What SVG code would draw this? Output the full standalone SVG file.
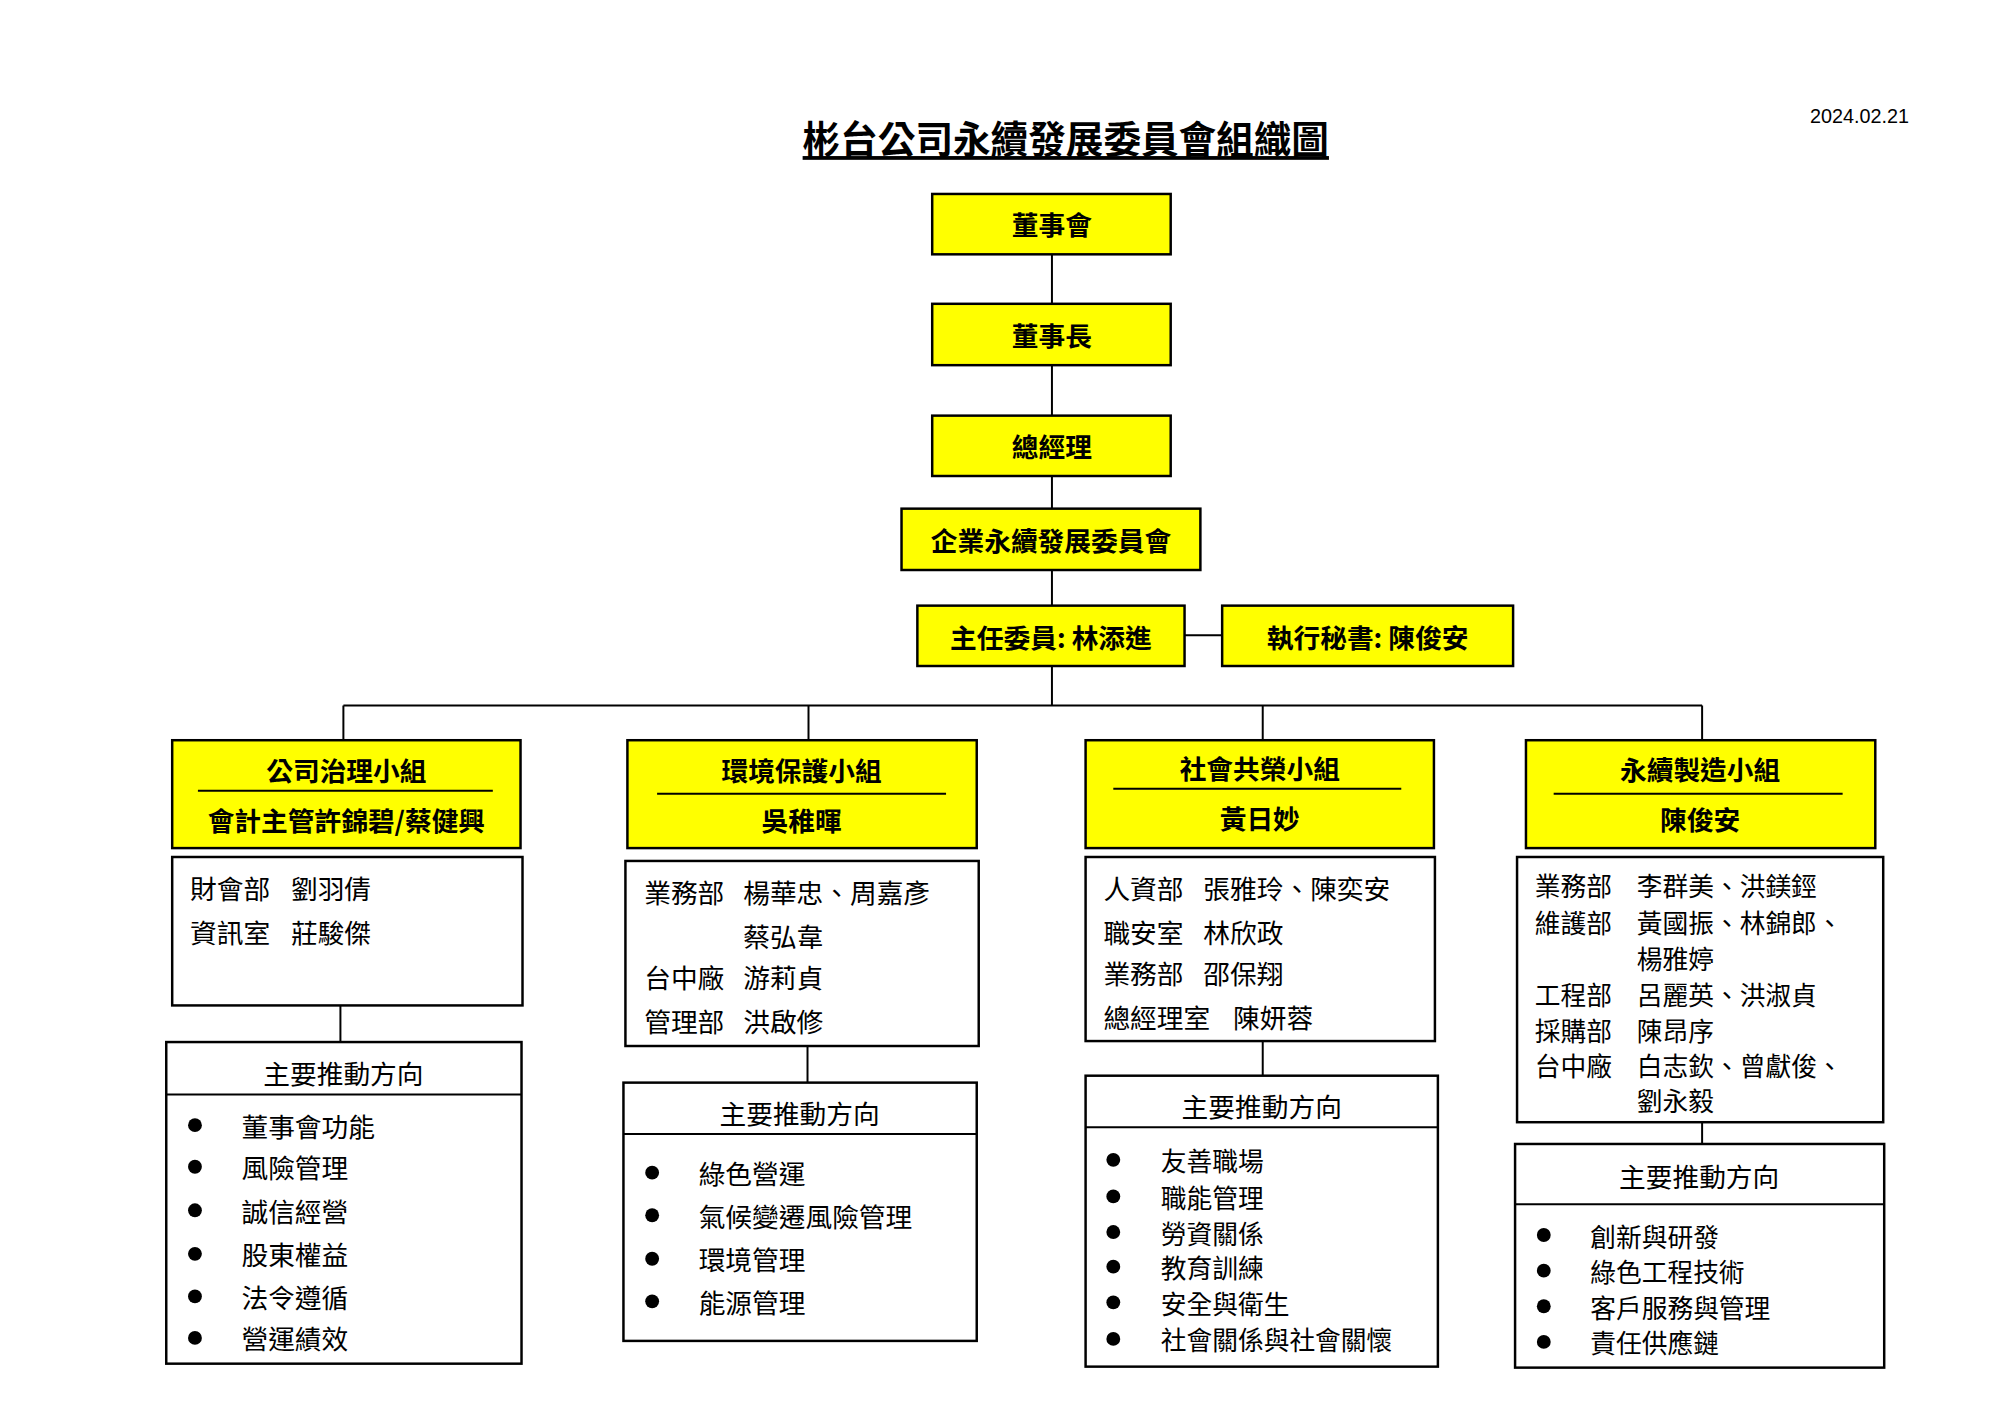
<svg xmlns="http://www.w3.org/2000/svg" width="2000" height="1414" viewBox="0 0 2000 1414">
<style>
text{font-family:"Noto Sans CJK TC","Noto Sans CJK SC",sans-serif;dominant-baseline:central;fill:#000}
.y{fill:#ffff00;stroke:#000;stroke-width:2.5}
.w{fill:#fff;stroke:#000;stroke-width:2.5}
.b{font-size:27px;font-weight:bold;text-anchor:middle}
.m{font-size:27px}
.s{font-size:26px}
.h{font-size:27px;text-anchor:middle}
.c{stroke:#000;stroke-width:2;fill:none}
</style>
<rect width="2000" height="1414" fill="#fff"/>
<g transform="scale(0.9896)">
<text x="1077" y="138" style="font-size:38px;font-weight:bold;text-anchor:middle;text-decoration:underline">彬台公司永續發展委員會組織圖</text>
<text x="1879" y="117" style="font-size:20px;text-anchor:middle;font-family:'Liberation Sans',sans-serif">2024.02.21</text>
<g id="connectors">
<path class="c" d="M1063 257V307M1063 369V420M1063 481V514M1063 576V612M1197 642H1235M1063 673V713M347 713H1720M347 713V748M817 713V748M1276 713V748M1720 713V748M344 1016V1053M816 1057V1094M1276 1052V1087M1720 1134V1156"/>
</g>
<g id="board"><rect class="y" x="942" y="196" width="241" height="61"/><text class="b" x="1063" y="226">董事會</text></g>
<g id="chairman"><rect class="y" x="942" y="307" width="241" height="62"/><text class="b" x="1063" y="338">董事長</text></g>
<g id="gm"><rect class="y" x="942" y="420" width="241" height="61"/><text class="b" x="1063" y="450">總經理</text></g>
<g id="committee"><rect class="y" x="911" y="514" width="302" height="62"/><text class="b" x="1062" y="545">企業永續發展委員會</text></g>
<g id="director"><rect class="y" x="927" y="612" width="270" height="61"/><text class="b" x="1062" y="643">主任委員: 林添進</text></g>
<g id="secretary"><rect class="y" x="1235" y="612" width="294" height="61"/><text class="b" x="1382" y="643">執行秘書: 陳俊安</text></g>

<g id="g1">
<rect class="y" x="174" y="748" width="352" height="109"/><line class="c" x1="200" y1="799" x2="498" y2="799"/>
<text class="b" x="350" y="778">公司治理小組</text><text class="b" x="350" y="828">會計主管許錦碧/蔡健興</text>
<rect class="w" x="174" y="866" width="354" height="150"/>
<text class="m" x="192" y="897">財會部</text><text class="m" x="294" y="897">劉羽倩</text>
<text class="m" x="192" y="941">資訊室</text><text class="m" x="294" y="941">莊駿傑</text>
<rect class="w" x="168" y="1053" width="359" height="325"/><line class="c" x1="168" y1="1106" x2="527" y2="1106"/>
<text class="h" x="347" y="1084">主要推動方向</text>
<g class="m"><circle cx="197" cy="1137" r="7"/><text x="244" y="1137">董事會功能</text>
<circle cx="197" cy="1179" r="7"/><text x="244" y="1179">風險管理</text>
<circle cx="197" cy="1223" r="7"/><text x="244" y="1223">誠信經營</text>
<circle cx="197" cy="1267" r="7"/><text x="244" y="1267">股東權益</text>
<circle cx="197" cy="1310" r="7"/><text x="244" y="1310">法令遵循</text>
<circle cx="197" cy="1352" r="7"/><text x="244" y="1352">營運績效</text></g>
</g>

<g id="g2">
<rect class="y" x="634" y="748" width="353" height="109"/><line class="c" x1="664" y1="802" x2="956" y2="802"/>
<text class="b" x="810" y="778">環境保護小組</text><text class="b" x="810" y="828">吳稚暉</text>
<rect class="w" x="632" y="870" width="357" height="187"/>
<text class="m" x="651" y="901">業務部</text><text class="m" x="751" y="901">楊華忠、周嘉彥</text>
<text class="m" x="751" y="945">蔡弘韋</text>
<text class="m" x="651" y="987">台中廠</text><text class="m" x="751" y="987">游莉貞</text>
<text class="m" x="651" y="1031">管理部</text><text class="m" x="751" y="1031">洪啟修</text>
<rect class="w" x="630" y="1094" width="357" height="261"/><line class="c" x1="630" y1="1146" x2="987" y2="1146"/>
<text class="h" x="808" y="1124">主要推動方向</text>
<g class="m"><circle cx="659" cy="1185" r="7"/><text x="706" y="1185">綠色營運</text>
<circle cx="659" cy="1228" r="7"/><text x="706" y="1228">氣候變遷風險管理</text>
<circle cx="659" cy="1272" r="7"/><text x="706" y="1272">環境管理</text>
<circle cx="659" cy="1315" r="7"/><text x="706" y="1315">能源管理</text></g>
</g>

<g id="g3">
<rect class="y" x="1097" y="748" width="352" height="109"/><line class="c" x1="1125" y1="797" x2="1416" y2="797"/>
<text class="b" x="1273" y="776">社會共榮小組</text><text class="b" x="1273" y="826">黃日妙</text>
<rect class="w" x="1097" y="866" width="353" height="186"/>
<text class="m" x="1115" y="897">人資部</text><text class="m" x="1216" y="897">張雅玲、陳奕安</text>
<text class="m" x="1115" y="941">職安室</text><text class="m" x="1216" y="941">林欣政</text>
<text class="m" x="1115" y="983">業務部</text><text class="m" x="1216" y="983">邵保翔</text>
<text class="m" x="1115" y="1027">總經理室</text><text class="m" x="1246" y="1027">陳妍蓉</text>
<rect class="w" x="1097" y="1087" width="356" height="294"/><line class="c" x1="1097" y1="1139" x2="1453" y2="1139"/>
<text class="h" x="1275" y="1117">主要推動方向</text>
<g class="s"><circle cx="1125" cy="1172" r="7"/><text x="1173" y="1172">友善職場</text>
<circle cx="1125" cy="1209" r="7"/><text x="1173" y="1209">職能管理</text>
<circle cx="1125" cy="1245" r="7"/><text x="1173" y="1245">勞資關係</text>
<circle cx="1125" cy="1280" r="7"/><text x="1173" y="1280">教育訓練</text>
<circle cx="1125" cy="1316" r="7"/><text x="1173" y="1316">安全與衛生</text>
<circle cx="1125" cy="1353" r="7"/><text x="1173" y="1353">社會關係與社會關懷</text></g>
</g>

<g id="g4">
<rect class="y" x="1542" y="748" width="353" height="109"/><line class="c" x1="1570" y1="802" x2="1862" y2="802"/>
<text class="b" x="1718" y="777">永續製造小組</text><text class="b" x="1718" y="827">陳俊安</text>
<rect class="w" x="1533" y="866" width="370" height="268"/>
<g class="s">
<text x="1551" y="894">業務部</text><text x="1654" y="894">李群美、洪鎂鋞</text>
<text x="1551" y="931">維護部</text><text x="1654" y="931">黃國振、林錦郎、</text>
<text x="1654" y="968">楊雅婷</text>
<text x="1551" y="1004">工程部</text><text x="1654" y="1004">呂麗英、洪淑貞</text>
<text x="1551" y="1040">採購部</text><text x="1654" y="1040">陳昂序</text>
<text x="1551" y="1076">台中廠</text><text x="1654" y="1076">白志欽、曾獻俊、</text>
<text x="1654" y="1111">劉永毅</text>
</g>
<rect class="w" x="1531" y="1156" width="373" height="226"/><line class="c" x1="1531" y1="1217" x2="1904" y2="1217"/>
<text class="h" x="1717" y="1188">主要推動方向</text>
<g class="s"><circle cx="1560" cy="1248" r="7"/><text x="1607" y="1248">創新與研發</text>
<circle cx="1560" cy="1284" r="7"/><text x="1607" y="1284">綠色工程技術</text>
<circle cx="1560" cy="1320" r="7"/><text x="1607" y="1320">客戶服務與管理</text>
<circle cx="1560" cy="1356" r="7"/><text x="1607" y="1356">責任供應鏈</text></g>
</g>
</g>
</svg>
